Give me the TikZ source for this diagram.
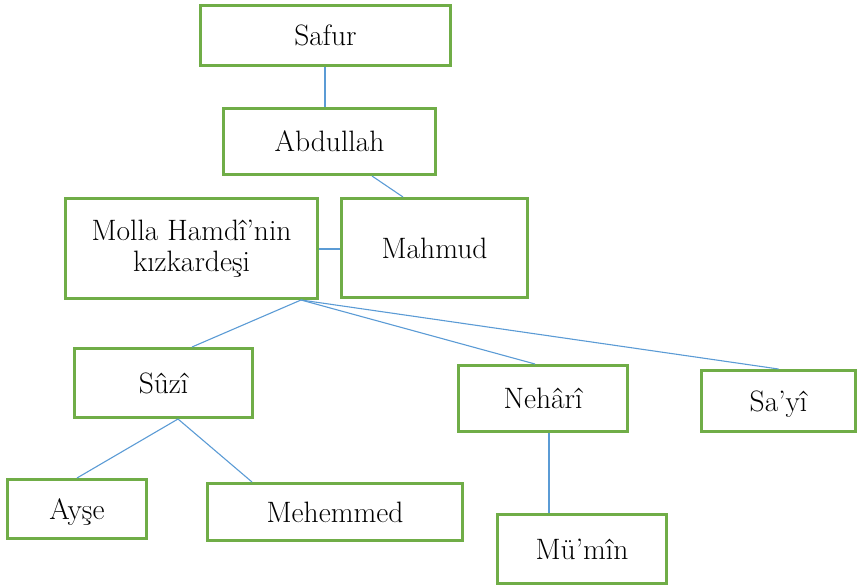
\documentclass[tikz,border=0pt]{standalone}
\usetikzlibrary{calc}
\definecolor{boxgreen}{HTML}{70AD47}
\definecolor{linkblue}{HTML}{5B9BD5}
\begin{document}
\begin{tikzpicture}[x=1pt,y=-1pt,
  box/.style={draw=boxgreen, line width=3pt, fill=white, inner sep=0pt,
    font=\fontsize{29.5}{34}\selectfont, text height=20pt, text depth=0pt},
  mbox/.style={draw=boxgreen, line width=3pt, fill=white, inner sep=0pt,
    font=\fontsize{29.5}{34}\selectfont, align=center},
  link/.style={draw=linkblue, line width=1.1pt},
  thick link/.style={draw=linkblue, line width=2pt}]
\useasboundingbox (0,0) rectangle (858,588);
\node[box, minimum width=250pt, minimum height=60pt] (safur) at (325.5,35.5) {Safur};
\node[box, minimum width=212pt, minimum height=66pt] (abdullah) at (329.5,141.5) {Abdullah};
\node[mbox, minimum width=252pt, minimum height=100pt] (molla) at (191.5,248.5) {Molla Hamdî’nin\\[-3pt]kızkardeşi};
\node[box, minimum width=186pt, minimum height=99pt] (mahmud) at (434.5,248) {Mahmud};
\node[box, minimum width=178pt, minimum height=69pt] (suzi) at (163.5,383) {Sûzî};
\node[box, minimum width=139pt, minimum height=59pt] (ayse) at (77,509) {Ayşe};
\node[box, minimum width=255pt, minimum height=57pt] (mehemmed) at (335,512) {Mehemmed};
\node[box, minimum width=169pt, minimum height=66pt] (nehari) at (543,398.5) {Nehârî};
\node[box, minimum width=154pt, minimum height=61pt] (sayi) at (778.5,401) {Sa’yî};
\node[box, minimum width=169pt, minimum height=69pt] (mumin) at (582,549) {Mü’mîn};
\draw[link] ([xshift=-0.5pt]safur.south) -- ([xshift=-0.5pt]safur.south |- abdullah.north);
\draw[link] ([xshift=42.5pt]abdullah.south) -- ([xshift=-31.5pt]mahmud.north);
\draw[thick link] (molla.east) -- (molla.east -| mahmud.west);
\draw[link] ([xshift=109.5pt]molla.south) -- ([xshift=28.5pt]suzi.north);
\draw[link] ([xshift=109.5pt]molla.south) -- ([xshift=-8pt]nehari.north);
\draw[link] ([xshift=109.5pt]molla.south) -- (sayi.north);
\draw[link] ([xshift=14.5pt]suzi.south) -- (ayse.north);
\draw[link] ([xshift=14.5pt]suzi.south) -- ([xshift=-83pt]mehemmed.north);
\draw[thick link] ([xshift=6pt]nehari.south) -- ([xshift=6pt]nehari.south |- mumin.north);
\end{tikzpicture}
\end{document}
